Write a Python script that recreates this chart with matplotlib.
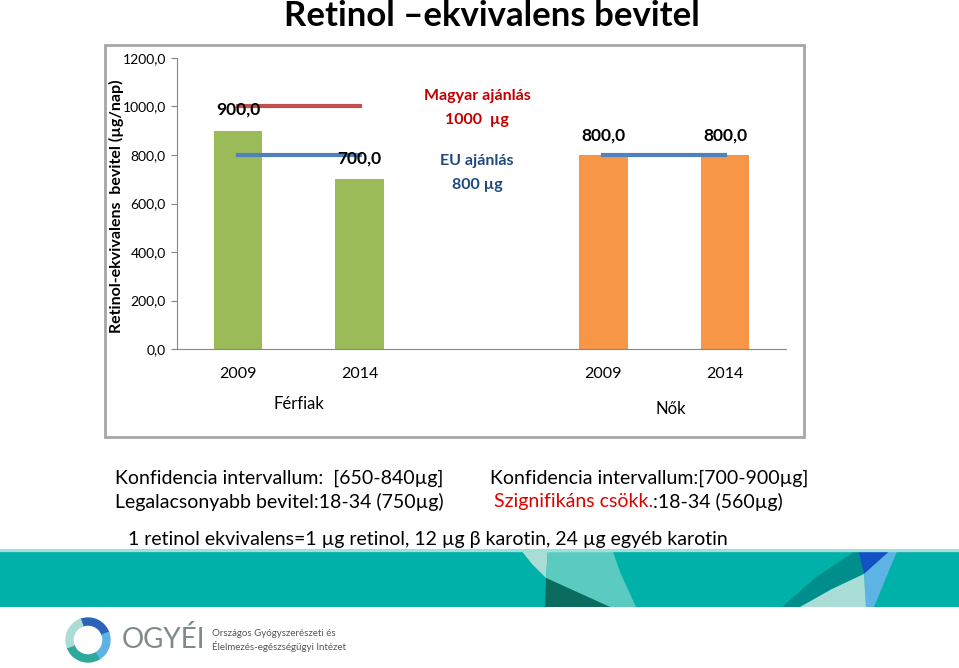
import numpy as np
import matplotlib
matplotlib.use("Agg")
import matplotlib.pyplot as plt
from matplotlib.patches import Rectangle, Polygon, Wedge

plt.rcParams['font.family'] = ['Lato', 'DejaVu Sans']

# data
years = ['2009', '2014', '2009', '2014']
groups = ['Férfiak', 'Nők']
values = [900.0, 700.0, 800.0, 800.0]
bar_colors = ['#9BBB59', '#9BBB59', '#F79646', '#F79646']
hu_rec_men = [1000, 1000]
eu_rec_men = [800, 800]
eu_rec_women = [800, 800]
yticks = [0, 200, 400, 600, 800, 1000, 1200]

W, H = 959, 668
fig = plt.figure(figsize=(W / 100, H / 100), dpi=100)


def fx(x):
    return x / W


def fy(y):
    return 1 - y / H


# chart frame
fig.patches.append(Rectangle((fx(105), fy(437)), fx(804) - fx(105), fy(45) - fy(437),
                             transform=fig.transFigure, fill=False,
                             edgecolor='#A6A6A6', lw=2))

ax = fig.add_axes([fx(177), fy(349), (786 - 177) / W, (349 - 58) / H])
pos = [0, 1, 3, 4]
ax.bar(pos, values, width=0.4, color=bar_colors, zorder=2)
ax.plot([0, 1], hu_rec_men, color='#C0504D', lw=3, zorder=3)
ax.plot([0, 1], eu_rec_men, color='#4F81BD', lw=3, zorder=3)
ax.plot([3, 4], eu_rec_women, color='#4F81BD', lw=3, zorder=3)

label_off = [88, 87, 82, 82]
for p, v, o in zip(pos, values, label_off):
    ax.text(p, v + o, f'{v:.1f}'.replace('.', ','), ha='center', va='center',
            fontsize=12.5, fontweight='bold', color='black', zorder=4)

ax.set_xlim(-0.5, 4.5)
ax.set_ylim(0, 1200)
ax.set_yticks(yticks)
ax.set_yticklabels([f'{t:.1f}'.replace('.', ',') for t in yticks], fontsize=10)
ax.set_xticks(pos)
ax.set_xticklabels(years, fontsize=11.5)
ax.tick_params(axis='x', length=0, pad=13)
ax.tick_params(axis='y', length=4, pad=4, color='#868686')
for s in ['top', 'right']:
    ax.spines[s].set_visible(False)
for s in ['left', 'bottom']:
    ax.spines[s].set_color('#868686')
ax.text(0.5, -0.19, groups[0], transform=ax.get_xaxis_transform(), ha='center',
        va='center', fontsize=12)
ax.text(3.55, -0.205, groups[1], transform=ax.get_xaxis_transform(), ha='center',
        va='center', fontsize=12)

fig.text(fx(116), fy(206), 'Retinol-ekvivalens  bevitel (µg/nap)', rotation=90,
         ha='center', va='center', fontsize=11.5, fontweight='bold')

# recommendation notes
for txt, yy, c in [('Magyar ajánlás', 96, '#C00000'), ('1000  µg', 120, '#C00000'),
                   ('EU ajánlás', 161, '#1F497D'), ('800 µg', 185, '#1F497D')]:
    fig.text(fx(477), fy(yy), txt, ha='center', va='center', fontsize=11.5,
             fontweight='bold', color=c)

# title
fig.text(fx(492), fy(16), 'Retinol –ekvivalens bevitel', ha='center', va='center',
         fontsize=25, fontweight='bold')

# notes under the chart
fs = 14
fig.text(fx(115), fy(478), 'Konfidencia intervallum:  [650-840µg]', va='center', fontsize=fs)
fig.text(fx(115), fy(502), 'Legalacsonyabb bevitel:18-34 (750µg)', va='center', fontsize=fs)
fig.text(fx(490), fy(478), 'Konfidencia intervallum:[700-900µg]', va='center', fontsize=fs)
t1 = fig.text(fx(494), fy(502), 'Szignifikáns csökk.', va='center', fontsize=fs, color='#E00000')
fig.canvas.draw()
bb = t1.get_window_extent()
fig.text(bb.x1 / W, fy(502), ':18-34 (560µg)', va='center', fontsize=fs)
fig.text(fx(128), fy(540), '1 retinol ekvivalens=1 µg retinol, 12 µg β karotin, 24 µg egyéb karotin',
         va='center', fontsize=fs)

# banner
bax = fig.add_axes([0, fy(607), 1, (607 - 549) / H])
bax.set_xlim(0, W)
bax.set_ylim(607, 549)
bax.axis('off')
bax.add_patch(Rectangle((0, 549), W, 58, color='#00B1A9'))
shapes = [
    ([(520, 549), (548, 549), (546, 578), (532, 564)], '#A9DDD6'),
    ([(548, 549), (612, 549), (620, 572), (636, 607), (610, 607), (546, 578)], '#5BCBC2'),
    ([(546, 578), (610, 607), (545, 607)], '#0B6B5F'),
    ([(858, 549), (864, 574), (832, 589), (800, 607), (782, 607), (815, 578)], '#008E8C'),
    ([(858, 549), (892, 549), (864, 574)], '#1151C4'),
    ([(892, 549), (898, 549), (874, 607), (866, 607), (864, 574)], '#5DB4E4'),
    ([(864, 574), (866, 607), (800, 607), (832, 589)], '#A9DDD6'),
]
for pts, c in shapes:
    bax.add_patch(Polygon(pts, closed=True, color=c, lw=0))
bax.add_patch(Rectangle((0, 549), W, 1.5, color='#9EE0DA'))

# logo
lax = fig.add_axes([fx(60), fy(668), 56 / W, 56 / H])
lax.set_xlim(-28, 28)
lax.set_ylim(-28, 28)
lax.set_aspect('equal')
lax.axis('off')
ring = [(20, 110, '#2B63B8'), (-60, 20, '#5DB4E4'), (200, 300, '#2FA89C'),
        (110, 200, '#A9DDD6')]
for a0, a1, c in ring:
    lax.add_patch(Wedge((0, 0), 22, a0, a1, width=7, color=c))
fig.text(fx(122), fy(640), 'OGYÉI', va='center', fontsize=20, color='#7F8A8C')
fig.text(fx(212), fy(633), 'Országos Gyógyszerészeti és', va='center', fontsize=7,
         color='#555555')
fig.text(fx(212), fy(646), 'Élelmezés-egészségügyi Intézet', va='center', fontsize=7,
         color='#555555')

fig.savefig('out.png', dpi=100)
